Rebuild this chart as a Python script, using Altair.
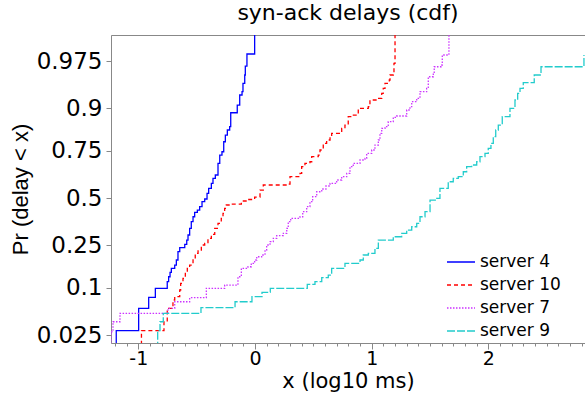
import altair as alt
import pandas as pd
from statistics import NormalDist

# Series names, colours and dash styles (legend order)
series_names = ["server 4", "server 10", "server 7", "server 9"]
series_colors = ["#0000FF", "#FF0000", "#CC33FF", "#22CCCC"]
series_dashes = [[1, 0], [4, 3], [1.5, 1.5], [8, 2]]

# x = log10 delay (ms); z = normal score (probit) of Pr(delay < x)
s4_x = [-1.189, -1.189, -0.997, -0.911, -0.854, -0.752, -0.740, -0.728, -0.717, -0.688,
        -0.674, -0.660, -0.645, -0.602, -0.585, -0.574, -0.560, -0.546, -0.531, -0.517,
        -0.494, -0.474, -0.454, -0.431, -0.411, -0.397, -0.374, -0.360, -0.340, -0.317,
        -0.302, -0.283, -0.268, -0.254, -0.237, -0.217, -0.208, -0.152, -0.131, -0.111,
        -0.103, -0.088, -0.083, -0.069, -0.003]
s4_z = [-2.6, -1.898, -1.578, -1.421, -1.292, -1.197, -1.126, -1.063, -1.006, -0.959,
        -0.887, -0.768, -0.711, -0.662, -0.601, -0.529, -0.433, -0.339, -0.268, -0.205,
        -0.172, -0.124, -0.053, -0.014, 0.067, 0.139, 0.210, 0.282, 0.329, 0.496,
        0.615, 0.662, 0.805, 0.901, 0.973, 1.020, 1.220, 1.330, 1.474, 1.521,
        1.641, 1.760, 1.888, 2.060, 2.6]

s10_x = [-0.973, -0.973, -0.780, -0.752, -0.703, -0.688, -0.645, -0.637, -0.617, -0.597,
         -0.580, -0.560, -0.531, -0.512, -0.488, -0.460, -0.431, -0.403, -0.374, -0.345,
         -0.317, -0.289, -0.274, -0.260, -0.246, -0.214, -0.117, -0.060, -0.003, 0.043,
         0.071, 0.272, 0.300, 0.386, 0.400, 0.428, 0.471, 0.486, 0.542, 0.557,
         0.585, 0.614, 0.643, 0.657, 0.743, 0.771, 0.799, 0.829, 0.885, 0.971,
         0.985, 1.037, 1.086, 1.099, 1.114, 1.151, 1.157, 1.185, 1.191, 1.200, 1.200]
s10_z = [-2.6, -1.898, -1.770, -1.578, -1.459, -1.412, -1.316, -1.220, -1.149, -1.077,
         -1.006, -0.959, -0.887, -0.791, -0.744, -0.672, -0.648, -0.577, -0.519, -0.433,
         -0.362, -0.290, -0.219, -0.147, -0.100, -0.086, -0.043, -0.021, 0.014, 0.114,
         0.186, 0.200, 0.305, 0.353, 0.448, 0.496, 0.519, 0.591, 0.615, 0.687,
         0.783, 0.830, 0.877, 0.926, 0.997, 1.044, 1.163, 1.187, 1.283, 1.306,
         1.402, 1.426, 1.498, 1.569, 1.641, 1.688, 1.760, 1.784, 1.927, 2.070, 2.6]

s7_x = [-1.234, -1.234, -1.217, -1.157, -0.746, -0.688, -0.560, -0.417, -0.260, -0.146,
        -0.117, -0.060, -0.032, -0.003, 0.015, 0.057, 0.086, 0.100, 0.129, 0.157,
        0.186, 0.243, 0.272, 0.285, 0.306, 0.386, 0.409, 0.443, 0.471, 0.494,
        0.529, 0.572, 0.608, 0.643, 0.700, 0.743, 0.786, 0.814, 0.842, 0.900,
        0.943, 0.957, 1.000, 1.028, 1.057, 1.071, 1.086, 1.114, 1.142, 1.185,
        1.214, 1.300, 1.328, 1.343, 1.386, 1.414, 1.471, 1.485, 1.528, 1.536,
        1.594, 1.605, 1.662]
s7_z = [-2.6, -1.913, -1.770, -1.650, -1.578, -1.484, -1.426, -1.292, -1.245, -1.126,
        -1.006, -0.983, -0.934, -0.887, -0.840, -0.815, -0.744, -0.672, -0.625, -0.577,
        -0.539, -0.505, -0.433, -0.339, -0.290, -0.268, -0.196, -0.124, -0.053, 0.019,
        0.090, 0.129, 0.172, 0.210, 0.258, 0.305, 0.353, 0.448, 0.496, 0.544,
        0.568, 0.639, 0.687, 0.758, 0.830, 0.926, 0.997, 1.020, 1.092, 1.155,
        1.173, 1.259, 1.306, 1.378, 1.426, 1.521, 1.569, 1.735, 1.784, 1.878,
        1.903, 2.046, 2.6]

s9_x = [-0.834, -0.834, -0.814, -0.786, -0.463, -0.171, -0.026, 0.060, 0.131, 0.448,
        0.514, 0.572, 0.628, 0.657, 0.771, 0.900, 0.928, 0.971, 1.028, 1.057,
        1.185, 1.257, 1.300, 1.343, 1.386, 1.414, 1.457, 1.500, 1.557, 1.585,
        1.656, 1.699, 1.742, 1.785, 1.814, 1.857, 1.900, 1.928, 1.971, 1.999,
        2.022, 2.042, 2.063, 2.085, 2.119, 2.185, 2.228, 2.251, 2.271, 2.299,
        2.393, 2.451, 2.819]
s9_z = [-2.6, -1.898, -1.770, -1.650, -1.567, -1.484, -1.412, -1.349, -1.292, -1.235,
        -1.197, -1.140, -1.102, -1.006, -0.934, -0.887, -0.815, -0.791, -0.720, -0.601,
        -0.554, -0.505, -0.458, -0.411, -0.362, -0.268, -0.196, -0.029, -0.004, 0.139,
        0.233, 0.282, 0.305, 0.376, 0.448, 0.472, 0.519, 0.591, 0.639, 0.711,
        0.783, 0.877, 0.973, 1.044, 1.163, 1.283, 1.402, 1.498, 1.569, 1.650,
        1.760, 1.878, 2.046]

# Axis tick definitions
prob_ticks = [0.025, 0.1, 0.25, 0.5, 0.75, 0.9, 0.975]
prob_labels = ["0.025", "0.1", "0.25", "0.5", "0.75", "0.9", "0.975"]
x_major_labels = [-1, 0, 1, 2]

rows = []
for name, xs, zs in [("server 4", s4_x, s4_z), ("server 10", s10_x, s10_z),
                     ("server 7", s7_x, s7_z), ("server 9", s9_x, s9_z)]:
    for i, (xv, zv) in enumerate(zip(xs, zs)):
        rows.append({"series": name, "x": xv, "z": zv, "order": i})
df = pd.DataFrame(rows)

nd = NormalDist()
z_ticks = [nd.inv_cdf(p) for p in prob_ticks]
# label expression mapping probit tick values back to probabilities
expr = "'" + prob_labels[-1] + "'"
for i in range(len(z_ticks) - 2, -1, -1):
    mid = (z_ticks[i] + z_ticks[i + 1]) / 2
    expr = f"datum.value < {mid:.4f} ? '{prob_labels[i]}' : ({expr})"

x_tick_values = [round(-1.2 + 0.1 * k, 1) for k in range(41)]
is_major = "abs(datum.value - round(datum.value)) < 0.001"

x_scale = alt.Scale(domain=[-1.234, 2.828], nice=False, zero=False)
y_scale = alt.Scale(domain=[-2.074, 2.332], nice=False, zero=False)

legend = alt.Legend(
    title=None, orient="none", legendX=335, legendY=212,
    symbolType="stroke", symbolSize=784, symbolStrokeWidth=1.3,
    labelFont="DejaVu Sans", labelFontSize=17, labelColor="black",
    labelOffset=4, rowPadding=-6, padding=0,
)

lines = alt.Chart(df).mark_line(interpolate="step-after", clip=True, strokeWidth=1.3).encode(
    x=alt.X("x:Q", scale=x_scale, title="x (log10 ms)",
            axis=alt.Axis(values=x_tick_values, labelExpr=f"{is_major} ? '' + round(datum.value) : ''",
                          tickSize={"condition": {"test": is_major, "value": 6}, "value": 3},
                          labelOverlap=False, labelFlush=False, grid=False,
                          labelFont="DejaVu Sans", labelFontSize=19, labelPadding=0,
                          titleFont="DejaVu Sans", titleFontSize=21, titleFontWeight="normal",
                          titleBaseline="alphabetic", titleY=44)),
    y=alt.Y("z:Q", scale=y_scale, title="Pr (delay < x)",
            axis=alt.Axis(values=z_ticks, labelExpr=expr, tickSize=5, grid=False,
                          labelOverlap=False, labelFlush=False,
                          labelFont="DejaVu Sans", labelFontSize=23, labelPadding=4,
                          titleFont="Liberation Sans", titleFontSize=22, titleFontWeight="normal",
                          titlePadding=4)),
    color=alt.Color("series:N", scale=alt.Scale(domain=series_names, range=series_colors), legend=legend),
    strokeDash=alt.StrokeDash("series:N", scale=alt.Scale(domain=series_names, range=series_dashes), legend=legend),
    order="order:Q",
)

top_border = alt.Chart(df).mark_point(opacity=0).encode(
    x=alt.X("x:Q", scale=x_scale,
            axis=alt.Axis(orient="top", labels=False, ticks=False, domain=True, grid=False, title=None)),
)

chart = alt.layer(lines, top_border).resolve_axis(x="independent").properties(
    width=474, height=308,
    title=alt.TitleParams("syn-ack delays (cdf)", font="DejaVu Sans", fontSize=22,
                          fontWeight="normal", color="black", anchor="middle", offset=10),
    autosize=alt.AutoSizeParams(type="none"),
    padding={"left": 111, "top": 35, "right": 0, "bottom": 50},
).configure_view(stroke=None).configure_axis(
    domainColor="black", tickColor="black", labelColor="black", titleColor="black",
    domainWidth=1, tickWidth=1,
).configure(background="white")

chart.save("out.html", embed_options={"renderer": "svg", "actions": False})
